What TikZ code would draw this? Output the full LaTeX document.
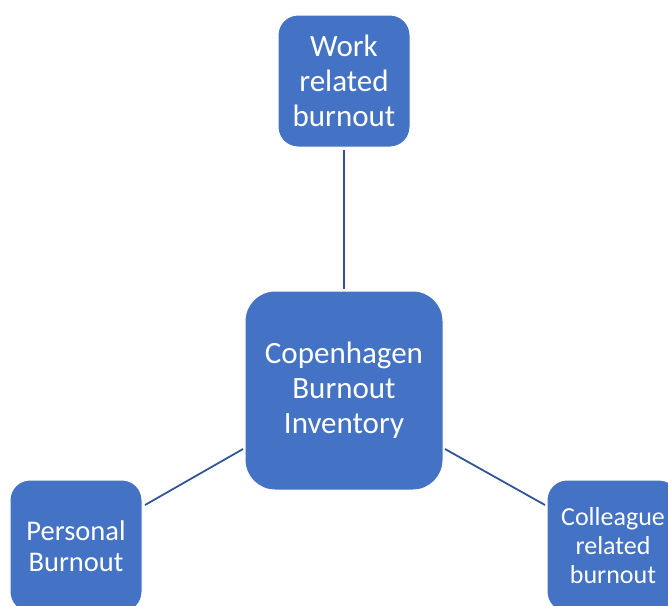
\documentclass[tikz,border=0pt]{standalone}
\usepackage{fontspec}
\setmainfont{Carlito}
\definecolor{boxfill}{HTML}{4472C4}
\definecolor{linkcol}{HTML}{2F5597}
\begin{document}
\begin{tikzpicture}[x=1pt,y=-1pt,
  cbox/.style={draw=white,line width=1pt,fill=boxfill,text=white,align=center,inner sep=0pt,anchor=center},
  link/.style={draw=linkcol,line width=1.8pt}]
\useasboundingbox (0,0) rectangle (668,605);
\clip (0,0) rectangle (668,605);
\node[cbox,minimum width=132pt,minimum height=132pt,rounded corners=20pt,
  font=\fontsize{31}{35}\selectfont] (work) at (344,81) {Work\\related\\burnout};
\node[cbox,minimum width=198pt,minimum height=199pt,rounded corners=30pt,
  font=\fontsize{31}{35}\selectfont] (cbi) at (344,390.5) {Copenhagen\\Burnout\\Inventory};
\node[cbox,minimum width=132pt,minimum height=132pt,rounded corners=20pt,
  font=\fontsize{28.5}{31}\selectfont] (pers) at (76,546) {Personal\\Burnout};
\node[cbox,minimum width=132pt,minimum height=132pt,rounded corners=20pt,
  font=\fontsize{26}{29}\selectfont] (coll) at (613,546) {Colleague\\related\\burnout};
\coordinate (a1) at (344,150);
\coordinate (a2) at (344,289);
\coordinate (b1) at (145,505);
\coordinate (b2) at (243,449);
\coordinate (c1) at (445,449);
\coordinate (c2) at (545,505);
\draw[link] (a1) -- (a2);
\draw[link] (b1) -- (b2);
\draw[link] (c1) -- (c2);
\end{tikzpicture}
\end{document}
